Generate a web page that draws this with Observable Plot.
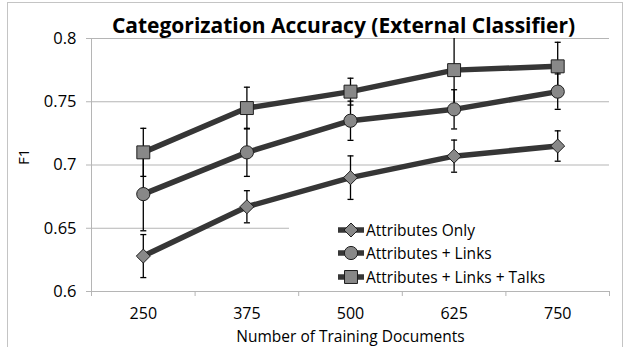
<!DOCTYPE html>
<html><head><meta charset="utf-8">
<script src="https://cdn.jsdelivr.net/npm/d3@7"></script>
<script src="https://cdn.jsdelivr.net/npm/@observablehq/plot@0.6"></script>
<style>
body{margin:0;background:#fff;}
#wrap{position:relative;width:624px;height:347px;overflow:hidden;font-family:"Open Sans", sans-serif;}
#chart{position:absolute;left:0;top:0;}
#border{position:absolute;left:7px;top:2px;width:614px;height:360px;border:1px solid #c4c4c4;pointer-events:none;}
#legend{position:absolute;left:289px;top:214px;width:320px;height:75px;background:#fff;}
.row{position:absolute;left:0;height:24px;display:flex;align-items:center;}
.row span{font-size:15.5px;color:#000;margin-left:1px;white-space:nowrap;}
</style></head><body>
<div id="wrap"><div id="chart"></div><div id="legend"></div><div id="border"></div></div>
<script>
const sizes = [250, 375, 500, 625, 750];
const seriesNames = ["Attributes Only", "Attributes + Links", "Attributes + Links + Talks"];
const attrOnly = [0.628, 0.667, 0.690, 0.707, 0.715];
const attrOnlyErr = [0.017, 0.0127, 0.0172, 0.0127, 0.012];
const attrLinks = [0.677, 0.710, 0.735, 0.744, 0.758];
const attrLinksErr = [0.029, 0.019, 0.0155, 0.0155, 0.014];
const attrLinksTalks = [0.710, 0.745, 0.758, 0.775, 0.778];
const attrLinksTalksErr = [0.019, 0.0165, 0.0106, 0.03, 0.019];
const yTicks = [0.6, 0.65, 0.7, 0.75, 0.8];
const titleText = "Categorization Accuracy (External Classifier)";
const xLabel = "Number of Training Documents";
const yLabel = "F1";

const values = [attrOnly, attrLinks, attrLinksTalks];
const errors = [attrOnlyErr, attrLinksErr, attrLinksTalksErr];
const data = seriesNames.flatMap((s, i) => sizes.map((x, j) => ({series: s, idx: i, x, y: values[i][j], e: errors[i][j]})));
const caps = data.flatMap(d => [{x: d.x, y: d.y - d.e}, {x: d.x, y: d.y + d.e}]);

const step = sizes[1] - sizes[0];
const xDomain = [sizes[0] - step / 2, sizes[sizes.length - 1] + step / 2];
const bounds = d3.range(sizes.length + 1).map(i => xDomain[0] + i * step);

const symbols = [d3.symbolDiamond2, d3.symbolCircle, d3.symbolSquare];
const radii = [6.3, 6.6, 7.3];
const capSymbol = {draw(ctx, size) { const r = Math.sqrt(size) / 2; ctx.moveTo(-r, 0); ctx.lineTo(r, 0); }};
const lineColor = "#363636", markerFill = "#888888", markerStroke = "#1e1e1e", gridColor = "#b5b5b5";

const plot = Plot.plot({
  width: 624, height: 347,
  marginTop: 38, marginBottom: 56, marginLeft: 91, marginRight: 15,
  style: {fontFamily: "'Open Sans', sans-serif", background: "transparent", color: "#000"},
  x: {type: "linear", domain: xDomain},
  y: {domain: [0.6, 0.8]},
  marks: [
    Plot.gridY(yTicks, {stroke: gridColor, strokeOpacity: 1}),
    Plot.ruleX([xDomain[0]], {stroke: gridColor}),
    Plot.axisY(yTicks, {tickSize: 5, tickPadding: 10, stroke: gridColor, fontSize: 16.5, label: null, tickFormat: d => String(+d.toFixed(2))}),
    Plot.axisX(bounds, {tickSize: 5, stroke: gridColor, label: null, tickFormat: () => ""}),
    Plot.axisX(sizes, {tickSize: 0, tickPadding: 16, fontSize: 16, label: null, tickFormat: d => String(d)}),
    Plot.ruleX(data, {x: "x", y1: d => d.y - d.e, y2: d => d.y + d.e, stroke: "#000", strokeWidth: 1.3, clip: true}),
    Plot.dot(caps, {x: "x", y: "y", symbol: capSymbol, r: 3.4, stroke: "#000", strokeWidth: 1.3, clip: true}),
    Plot.line(data, {x: "x", y: "y", z: "series", stroke: lineColor, strokeWidth: 5.5}),
    ...seriesNames.map((s, i) => Plot.dot(data.filter(d => d.idx === i), {x: "x", y: "y", symbol: symbols[i], r: radii[i], fill: markerFill, stroke: markerStroke, strokeWidth: 1})),
    Plot.text([titleText], {text: d => d, frameAnchor: "top", dy: -20, dx: -7, fontSize: 21, fontWeight: "bold"}),
    Plot.text([yLabel], {text: d => d, frameAnchor: "left", dx: -67, rotate: -90, fontSize: 15}),
    Plot.text([xLabel], {text: d => d, frameAnchor: "bottom", dy: 50, fontSize: 15.5})
  ]
});
document.getElementById("chart").appendChild(plot);

// legend
const legend = d3.select("#legend");
const rowTops = [4, 27, 50.5];
seriesNames.forEach((s, i) => {
  const row = legend.append("div").attr("class", "row").style("top", rowTops[i] + "px").style("left", "48px");
  const svg = row.append("svg").attr("width", 28).attr("height", 24);
  svg.append("line").attr("x1", 1).attr("x2", 27).attr("y1", 12).attr("y2", 12).attr("stroke", lineColor).attr("stroke-width", 5.5);
  svg.append("path").attr("transform", "translate(14,12)")
    .attr("d", d3.symbol(symbols[i], Math.PI * radii[i] * radii[i])())
    .attr("fill", markerFill).attr("stroke", markerStroke).attr("stroke-width", 1);
  row.append("span").text(s);
});
</script>
</body></html>
